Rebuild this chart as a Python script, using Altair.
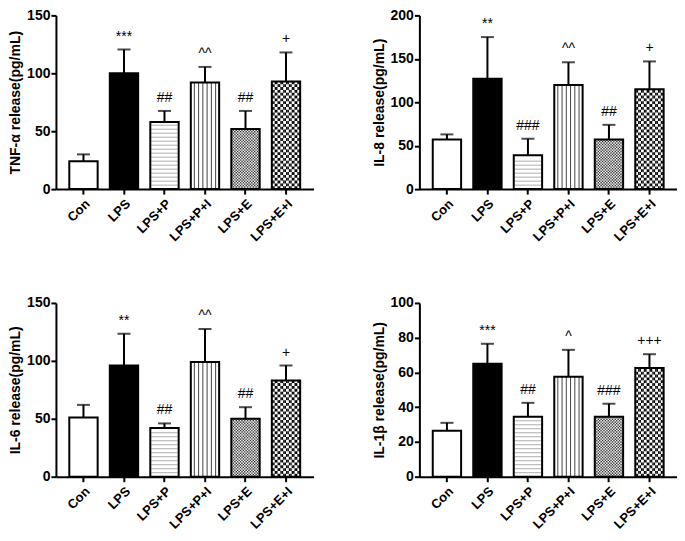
import altair as alt
import pandas as pd
import numpy as np

categories = ["Con", "LPS", "LPS+P", "LPS+P+I", "LPS+E", "LPS+E+I"]

tnf_mean = [24, 100, 58, 92, 52, 93]
tnf_sd = [6, 20.5, 9.5, 13.5, 15.5, 25]
tnf_sig = ["", "***", "##", "^^", "##", "+"]

il8_mean = [57, 127, 39, 120, 57, 115]
il8_sd = [6, 48, 19, 26, 17, 32]
il8_sig = ["", "**", "###", "^^", "##", "+"]

il6_mean = [51, 96, 42, 99, 50, 83]
il6_sd = [11, 27.5, 4, 28.5, 10, 13]
il6_sig = ["", "**", "##", "^^", "##", "+"]

il1b_mean = [26.5, 65, 34.5, 57.5, 34.5, 62.5]
il1b_sd = [4.5, 11.5, 8, 15.5, 7.5, 8]
il1b_sig = ["", "***", "##", "^", "###", "+++"]

fills = ["white", "black", "white", "white", "white", "white"]

W = 258
H = 174
NSUB = 20
FONT = "Liberation Sans"
PAD_IN = 0.3
PAD_OUT = 0.33
band_px = W / (len(categories) - PAD_IN + 2 * PAD_OUT) * (1 - PAD_IN)
sub_px = band_px / NSUB


def pattern_frames(means, ymax):
    per_px = ymax / H
    hl, vl, fine, big = [], [], [], []
    # horizontal lines: LPS+P
    v = means[2]
    p = 4.0 * per_px
    y = p
    while y < v - 0.5 * p:
        hl.append({"cat": categories[2], "y": y})
        y += p
    # vertical lines: LPS+P+I
    v = means[3]
    for s in range(2, NSUB, 3):
        vl.append({"cat": categories[3], "sub": s, "y0": 0, "y1": v})
    # fine checker: LPS+E
    v = means[4]
    p = sub_px * per_px
    j = 0
    while j * p < v:
        for i in range(NSUB):
            if (i + j) % 2 == 0:
                fine.append({"cat": categories[4], "sub": i, "y0": j * p,
                             "y1": min((j + 1) * p, v)})
        j += 1
    # big checker: LPS+E+I
    v = means[5]
    p = 2 * sub_px * per_px
    j = 0
    while j * p < v:
        for I in range(NSUB // 2):
            if (I + j) % 2 == 0:
                for s in (2 * I, 2 * I + 1):
                    big.append({"cat": categories[5], "sub": s, "y0": j * p,
                                "y1": min((j + 1) * p, v)})
        j += 1
    return (pd.DataFrame(hl), pd.DataFrame(vl), pd.DataFrame(fine),
            pd.DataFrame(big))


def make_panel(title, means, sds, sigs, ymax, yticks):
    df = pd.DataFrame({
        "cat": categories,
        "mean": means,
        "upper": [m + s for m, s in zip(means, sds)],
        "sig": sigs,
    })
    xsc = alt.Scale(domain=categories, paddingInner=PAD_IN, paddingOuter=PAD_OUT)
    ysc = alt.Scale(domain=[0, ymax], nice=False, zero=True)
    x = alt.X("cat:N", scale=xsc, sort=categories,
              axis=alt.Axis(title=None, labelAngle=-45, labelFontSize=13,
                            labelFontWeight="bold", labelFont=FONT,
                            domainWidth=2, tickWidth=2, tickSize=5,
                            labelPadding=3, domainColor="black",
                            tickColor="black", labelColor="black",
                            labelOverlap=False))
    yaxis = alt.Axis(title=title, values=yticks, grid=False, labelFontSize=14,
                     labelFontWeight="bold", labelFont=FONT, titleFont=FONT,
                     titleFontSize=14, titleFontWeight="bold", domainWidth=2,
                     tickWidth=2, tickSize=5, labelPadding=1, titlePadding=4,
                     domainColor="black", tickColor="black",
                     labelColor="black", titleColor="black",
                     labelOverlap=False)

    def yq(field):
        return alt.Y(field, scale=ysc, axis=yaxis)

    base = alt.Chart(df)
    fill = base.mark_bar(strokeWidth=0).encode(
        x=x, y=yq("mean:Q"),
        color=alt.Color("cat:N", scale=alt.Scale(domain=categories, range=fills),
                        legend=None))

    hl, vl, fine, big = pattern_frames(means, ymax)
    off = alt.XOffset("sub:O", scale=alt.Scale(domain=list(range(NSUB)),
                                               paddingInner=0, paddingOuter=0))
    hl_layer = alt.Chart(hl).mark_tick(color="#8a8a8a", thickness=1,
                                       size=band_px - 2).encode(
        x=x, y=yq("y:Q"))
    vl_layer = alt.Chart(vl).mark_rule(color="#444444", strokeWidth=1).encode(
        x=x, xOffset=off, y=yq("y0:Q"), y2="y1:Q")
    fine_layer = alt.Chart(fine).mark_rect(color="#333333").encode(
        x=x, xOffset=off, y=yq("y0:Q"), y2="y1:Q")
    big_layer = alt.Chart(big).mark_rect(color="black").encode(
        x=x, xOffset=off, y=yq("y0:Q"), y2="y1:Q")

    outline = base.mark_bar(fillOpacity=0, stroke="black", strokeWidth=2).encode(
        x=x, y=yq("mean:Q"))
    err = base.mark_rule(color="black", strokeWidth=2).encode(
        x=x, y=yq("mean:Q"), y2="upper:Q")
    cap = base.mark_tick(color="black", thickness=2, size=13).encode(
        x=x, y=yq("upper:Q"))
    txt = base.mark_text(baseline="alphabetic", dy=-9, fontSize=14, font=FONT,
                         color="black").encode(
        x=x, y=yq("upper:Q"), text="sig:N")

    return alt.layer(fill, hl_layer, vl_layer, fine_layer, big_layer, outline,
                     err, cap, txt).properties(width=W, height=H)


p1 = make_panel("TNF-α release(pg/mL)", tnf_mean, tnf_sd, tnf_sig, 150,
                [0, 50, 100, 150])
p2 = make_panel("IL-8 release(pg/mL)", il8_mean, il8_sd, il8_sig, 200,
                [0, 50, 100, 150, 200])
p3 = make_panel("IL-6 release(pg/mL)", il6_mean, il6_sd, il6_sig, 150,
                [0, 50, 100, 150])
p4 = make_panel("IL-1β release(pg/mL)", il1b_mean, il1b_sd, il1b_sig, 100,
                [0, 20, 40, 60, 80, 100])

chart = alt.vconcat(
    alt.hconcat(p1, p2, spacing=58),
    alt.hconcat(p3, p4, spacing=58),
    spacing=52,
).configure_view(stroke=None).properties(
    padding={"left": 0, "top": 0, "right": 0, "bottom": 0},
    background="white",
)

chart.save("out.html", embed_options={"renderer": "svg", "actions": False})
